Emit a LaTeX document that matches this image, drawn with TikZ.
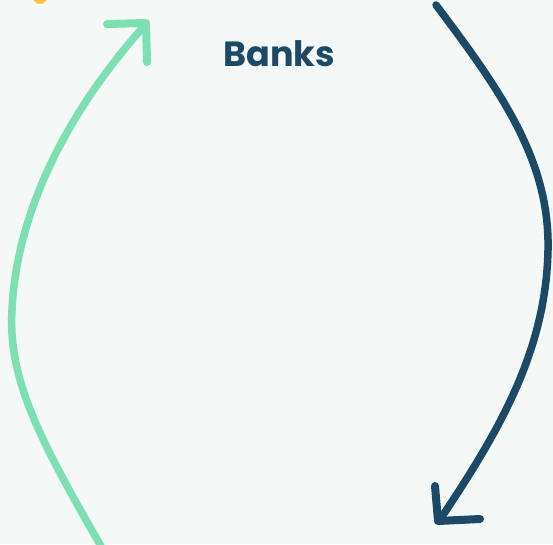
\documentclass[tikz,border=0pt]{standalone}
\usepackage{fontspec}
\setmainfont{Poppins}
\definecolor{bg}{HTML}{F4F8F7}
\definecolor{mint}{HTML}{7DE0B2}
\definecolor{navy}{HTML}{1C4A66}
\definecolor{sun}{HTML}{FFC33D}
\tikzset{
  flow/.style={line width=7.5pt, line cap=round, line join=round},
  head/.style={line width=8pt, line cap=round, line join=round},
  title/.style={font=\bfseries\fontsize{35}{42}\selectfont, text=navy, inner sep=0pt}
}
\begin{document}
\begin{tikzpicture}[x=1pt,y=-1pt]
\fill[bg] (0,0) rectangle (553,544);
\useasboundingbox (0,0) rectangle (553,544);
\begin{scope}
\clip (0,0) rectangle (553,544);
\fill[sun] (40,-3) circle (7);
% green arrow
\draw[flow, mint] (102,548) .. controls (40,440) and (8,380) .. (12,310)
  .. controls (16,220) and (60,120) .. (145,25);
\draw[head, mint] (107,24) -- (146,23) -- (147,62);
% navy arrow
\draw[flow, navy] (436,5) .. controls (500,90) and (550,160) .. (548,250)
  .. controls (546,350) and (500,430) .. (441,518);
\draw[head, navy] (435,486) -- (438,521) -- (480,519);
\end{scope}
\node[title] (banks) at (279,54) {Banks};
\end{tikzpicture}
\end{document}
